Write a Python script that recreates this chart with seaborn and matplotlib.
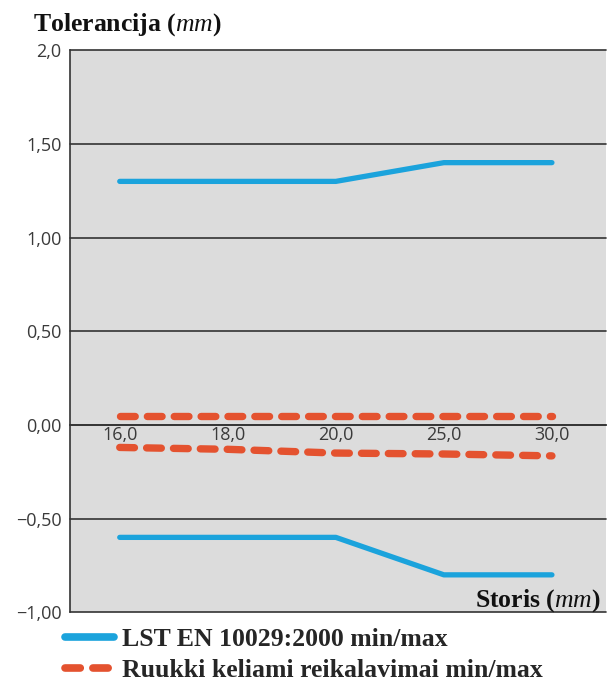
import matplotlib
matplotlib.use("Agg")
import matplotlib.pyplot as plt
import numpy as np
import pandas as pd
import seaborn as sns
from matplotlib.ticker import FixedLocator

storis = ["16,0", "18,0", "20,0", "25,0", "30,0"]
lst_max = [1.30, 1.30, 1.30, 1.40, 1.40]
lst_min = [-0.60, -0.60, -0.60, -0.80, -0.80]
ruukki_max = [0.05, 0.05, 0.05, 0.05, 0.05]
ruukki_min = [-0.12, -0.13, -0.15, -0.155, -0.165]
y_ticks = [-1.0, -0.5, 0.0, 0.5, 1.0, 1.5, 2.0]
y_tick_labels = ["\u22121,00", "\u22120,50", "0,00", "0,50", "1,00", "1,50", "2,0"]
series_names = ["LST EN 10029:2000 min/max", "Ruukki keliami reikalavimai min/max"]

rows = []
for name, bound, vals in [
    (series_names[0], "max", lst_max),
    (series_names[0], "min", lst_min),
    (series_names[1], "max", ruukki_max),
    (series_names[1], "min", ruukki_min),
]:
    for s, v in zip(storis, vals):
        rows.append({"storis": s, "value": v, "serija": name, "riba": bound})
df = pd.DataFrame(rows)

sns.set_style("white", {"axes.facecolor": "#dcdcdc"})
plt.rcParams["font.family"] = ["Open Sans", "DejaVu Sans"]
plt.rcParams["mathtext.fontset"] = "custom"
plt.rcParams["mathtext.it"] = "Liberation Serif:italic"
plt.rcParams["mathtext.rm"] = "Liberation Serif"

blue = "#1ba3dc"
red = "#e4522f"
dark = "#333333"

fig, ax = plt.subplots(figsize=(6.09, 6.88), dpi=100)
fig.subplots_adjust(left=0.115, right=0.995, top=0.927, bottom=0.110)

sns.lineplot(
    data=df, x="storis", y="value", hue="serija", style="serija", size="serija",
    units="riba", estimator=None, palette=[blue, red],
    sizes={series_names[0]: 3.8, series_names[1]: 5.3},
    dashes=["", (2.0, 1.65)], ax=ax,
    solid_capstyle="round", dash_capstyle="round",
)

ax.set_xlim(-0.46, 4.5)
ax.set_ylim(-1.0, 2.0)
ax.set_yticks(y_ticks, y_tick_labels)
ax.yaxis.grid(True, color=dark, lw=1.2)
ax.xaxis.grid(False)
for gl in ax.get_ygridlines():
    gl.set_clip_on(False)
ax.set_axisbelow(True)

ax.spines["right"].set_visible(False)
ax.spines["top"].set_visible(False)
ax.spines["left"].set_color(dark)
ax.spines["left"].set_linewidth(1.2)
ax.spines["bottom"].set_position(("data", 0))
ax.spines["bottom"].set_color(dark)
ax.spines["bottom"].set_linewidth(1.2)

ax.xaxis.set_minor_locator(FixedLocator(np.arange(len(storis)) + 0.5))
ax.tick_params(axis="x", which="major", length=0, pad=1, labelsize=13, labelcolor="#3a3a3a")
ax.tick_params(axis="x", which="minor", length=5, width=1.2, color=dark, direction="out")
ax.tick_params(axis="y", length=5, width=1.2, color=dark, direction="out",
               labelsize=13, labelcolor="#3a3a3a", pad=1)
ax.set_xlabel("")
ax.set_ylabel("")

serif_bold = {"family": "Liberation Serif", "weight": "bold"}
fig.text(0.054, 0.956, "Tolerancija ($\\mathit{mm}$)", fontsize=18.5, color="#111111",
         va="baseline", **serif_bold)
ax.text(0.99, 0.011, "Storis ($\\mathit{mm}$)", transform=ax.transAxes, ha="right", va="baseline",
        fontsize=18.5, color="#111111", **serif_bold)

handles, labels = ax.get_legend_handles_labels()
ax.get_legend().remove()
leg = fig.legend(
    handles, labels, loc="upper left", bbox_to_anchor=(0.107, 0.087),
    frameon=False, prop={"family": "Liberation Serif", "weight": "bold", "size": 18.5},
    handlelength=1.9, handletextpad=0.3, labelspacing=0.3, borderpad=0, borderaxespad=0,
)
for line in leg.get_lines():
    line.set_linewidth(5.5)
    line.set_solid_capstyle("round")
    line.set_dash_capstyle("round")

fig.savefig("out.png", dpi=100)
